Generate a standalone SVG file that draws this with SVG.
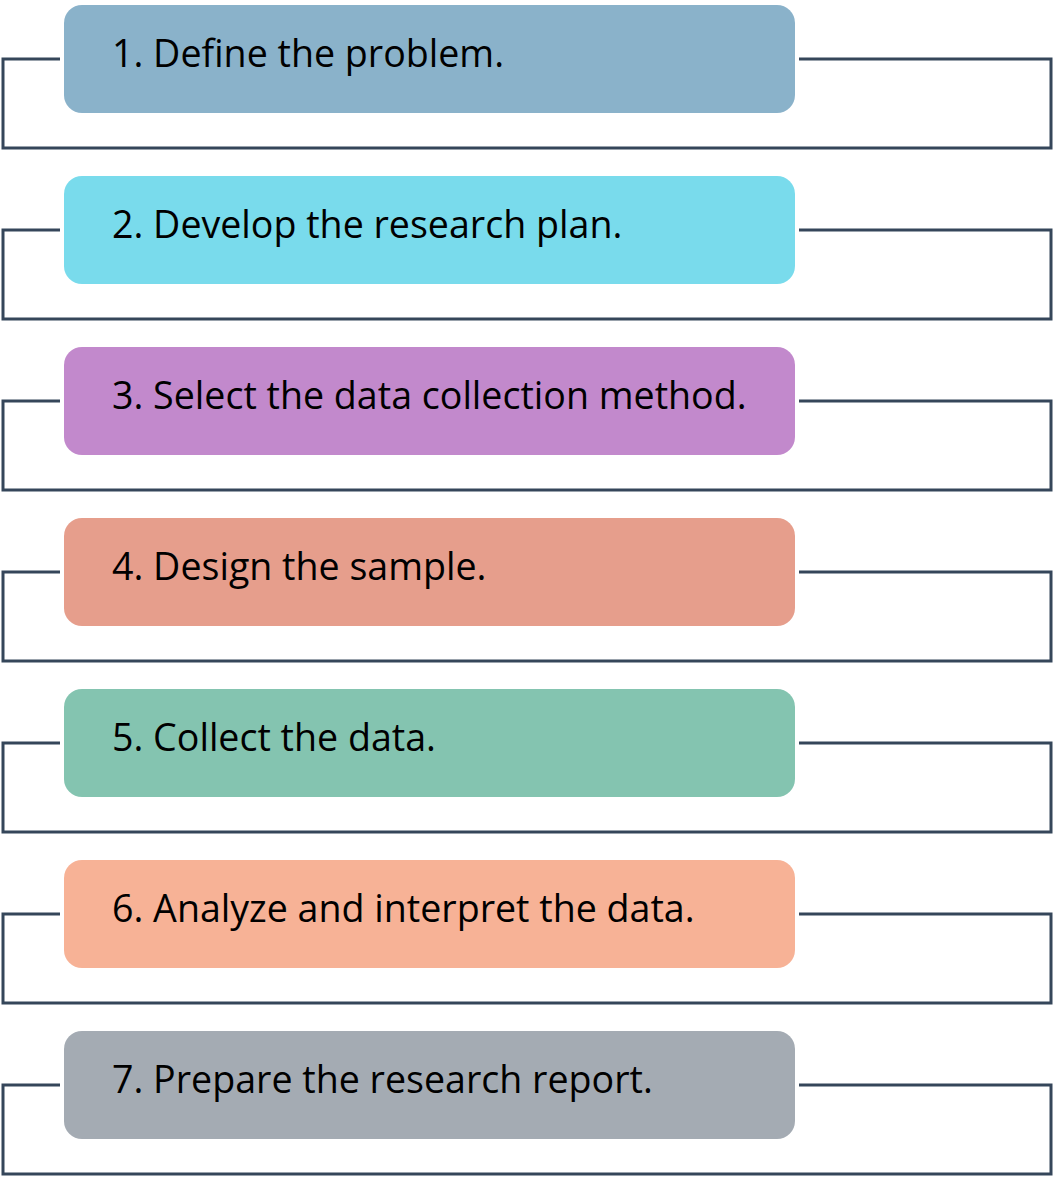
<svg xmlns="http://www.w3.org/2000/svg" width="1054" height="1177" viewBox="0 0 1054 1177">
<style>
.c{fill:none;stroke:#35465a;stroke-width:3;stroke-linejoin:miter}
.t{font-family:"Open Sans","Noto Sans",sans-serif;font-size:37.6px;fill:#000}
</style>
<rect width="1054" height="1177" fill="#fff"/>
<g id="connectors">
<path class="c" d="M60,59 H3 V148 H1051 V59 H799"/>
<path class="c" d="M60,230 H3 V319 H1051 V230 H799"/>
<path class="c" d="M60,401 H3 V490 H1051 V401 H799"/>
<path class="c" d="M60,572 H3 V661 H1051 V572 H799"/>
<path class="c" d="M60,743 H3 V832 H1051 V743 H799"/>
<path class="c" d="M60,914 H3 V1003 H1051 V914 H799"/>
<path class="c" d="M60,1085 H3 V1174 H1051 V1085 H799"/>
</g>
<g id="n1"><rect x="64" y="5" width="731" height="108" rx="18" fill="#8ab2ca"/><text class="t" x="112" y="67">1. Define the problem.</text></g>
<g id="n2"><rect x="64" y="176" width="731" height="108" rx="18" fill="#79dbec"/><text class="t" x="112" y="238">2. Develop the research plan.</text></g>
<g id="n3"><rect x="64" y="347" width="731" height="108" rx="18" fill="#c289cc"/><text class="t" x="112" y="409">3. Select the data collection method.</text></g>
<g id="n4"><rect x="64" y="518" width="731" height="108" rx="18" fill="#e69e8c"/><text class="t" x="112" y="580">4. Design the sample.</text></g>
<g id="n5"><rect x="64" y="689" width="731" height="108" rx="18" fill="#84c4b0"/><text class="t" x="112" y="751">5. Collect the data.</text></g>
<g id="n6"><rect x="64" y="860" width="731" height="108" rx="18" fill="#f7b296"/><text class="t" x="112" y="922">6. Analyze and interpret the data.</text></g>
<g id="n7"><rect x="64" y="1031" width="731" height="108" rx="18" fill="#a4abb3"/><text class="t" x="112" y="1093">7. Prepare the research report.</text></g>
</svg>
